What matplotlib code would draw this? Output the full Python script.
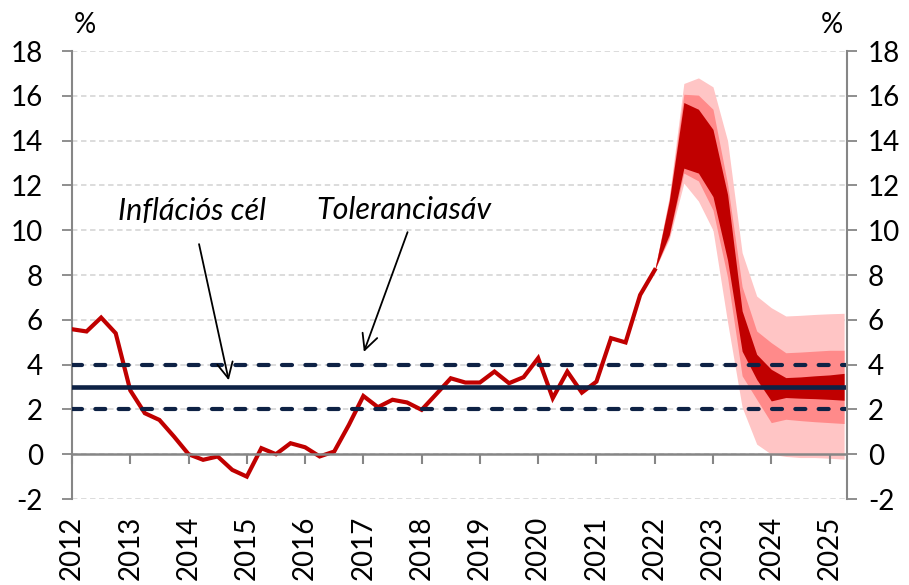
import matplotlib.pyplot as plt
import numpy as np

plt.rcParams['font.family'] = ['Lato', 'DejaVu Sans']
plt.rcParams['axes.unicode_minus'] = False

years = [str(y) for y in range(2012, 2026)]

# quarterly CPI, 2012Q1 .. 2022Q1
cpi = [5.58, 5.48, 6.10, 5.40, 2.85, 1.83, 1.53, 0.79, 0.00, -0.25,
       -0.10, -0.70, -1.00, 0.27, 0.00, 0.49, 0.31, -0.10, 0.12, 1.30,
       2.60, 2.10, 2.43, 2.31, 1.98, 2.68, 3.39, 3.20, 3.20, 3.69,
       3.17, 3.44, 4.29, 2.50, 3.69, 2.75, 3.24, 5.18, 4.99, 7.11, 8.22]

# fan bands, 2022Q1 .. 2025Q2
light_hi = [8.22, 11.5, 16.55, 16.8, 16.4, 14.0, 9.0, 7.06, 6.54, 6.17, 6.2, 6.24, 6.27, 6.29]
mid_hi = [8.22, 11.4, 16.07, 16.03, 15.4, 12.07, 7.48, 5.5, 4.98, 4.53, 4.56, 4.6, 4.64, 4.64]
dark_hi = [8.22, 11.3, 15.7, 15.4, 14.5, 11.6, 6.4, 4.46, 3.79, 3.42, 3.45, 3.5, 3.54, 3.61]
dark_lo = [8.22, 9.8, 12.77, 12.55, 11.5, 8.67, 4.6, 3.34, 2.38, 2.53, 2.5, 2.48, 2.45, 2.41]
mid_lo = [8.22, 9.7, 12.55, 12.2, 10.9, 7.9, 3.5, 2.45, 1.41, 1.56, 1.5, 1.45, 1.41, 1.37]
light_lo = [8.22, 9.6, 12.1, 11.3, 10.0, 5.9, 2.1, 0.45, 0.0, -0.1, -0.15, -0.15, -0.18, -0.22]

target = 3
band = [2, 4]

x_hist = np.arange(len(cpi))
x_fan = np.arange(len(cpi) - 1, len(cpi) - 1 + len(light_hi))
x_ticks = np.arange(0, 53, 4)

navy = '#0e2245'
red = '#c00000'
gray = '#868686'

fig = plt.figure(figsize=(9.09, 5.85), dpi=100)
ax = fig.add_axes([0.0792, 0.147, 0.8526, 0.7658])

ax.set_xlim(0, 53.2)
ax.set_ylim(-2, 18)
ax.set_yticks(range(-2, 19, 2))
ax.grid(axis='y', ls=(0, (3, 2)), color='#d9d9d9', lw=1.3)
ax.set_axisbelow(True)

ax.fill_between(x_fan, light_lo, light_hi, color='#ffc5c5', lw=0, zorder=2)
ax.fill_between(x_fan, mid_lo, mid_hi, color='#ff8a8a', lw=0, zorder=3)
ax.fill_between(x_fan, dark_lo, dark_hi, color=red, lw=0, zorder=4)
ax.plot(x_hist, cpi, color=red, lw=3, zorder=5, solid_joinstyle='miter')

ax.axhline(target, color=navy, lw=3.3, zorder=6)
for b in band:
    ax.axhline(b, color=navy, lw=3, ls=(0, (2.4, 3.2)), dash_capstyle='round', zorder=6)

# year labels at the bottom edge
ax.set_xticks(x_ticks)
ax.set_xticklabels(years, rotation=90)
ax.tick_params(axis='x', length=0, pad=12, labelsize=20)
ax.spines['bottom'].set_visible(False)

ax.tick_params(axis='y', length=7, color=gray, width=1.3, pad=14, labelsize=20)
for s in ['top', 'right']:
    ax.spines[s].set_visible(False)
ax.spines['left'].set_color(gray)
ax.spines['left'].set_linewidth(1.5)

ax2 = ax.twinx()
ax2.set_ylim(-2, 18)
ax2.set_yticks(range(-2, 19, 2))
ax2.tick_params(axis='y', length=7, color=gray, width=1.3, pad=8, labelsize=20)
for s in ['top', 'left', 'bottom']:
    ax2.spines[s].set_visible(False)
ax2.spines['right'].set_color(gray)
ax2.spines['right'].set_linewidth(1.5)

# x axis line at zero with its small ticks, drawn on the top (twin) axes
ax2.axhline(0, color=gray, lw=1.8, zorder=3)
ax2.plot(x_ticks, np.zeros(len(x_ticks)), ls='none', marker=3, ms=7,
         mew=1.5, color=gray, zorder=3, clip_on=False)

ax.text(0.017, 1.058, '%', transform=ax.transAxes, ha='center', va='center', fontsize=20)
ax.text(0.98, 1.058, '%', transform=ax.transAxes, ha='center', va='center', fontsize=20)

ax.annotate('', xy=(10.8, 3.18), xytext=(8.68, 9.5),
            arrowprops=dict(arrowstyle='->', color='black', lw=1.3, mutation_scale=28), zorder=7)
ax.text(8.22, 10.84, 'Inflációs cél', style='italic', fontsize=22, ha='center', va='center')
ax.annotate('', xy=(19.97, 4.45), xytext=(23.1, 10.03),
            arrowprops=dict(arrowstyle='->', color='black', lw=1.3, mutation_scale=28), zorder=7)
ax.text(22.76, 10.89, 'Toleranciasáv', style='italic', fontsize=22, ha='center', va='center')

fig.savefig('out.png', dpi=100)
